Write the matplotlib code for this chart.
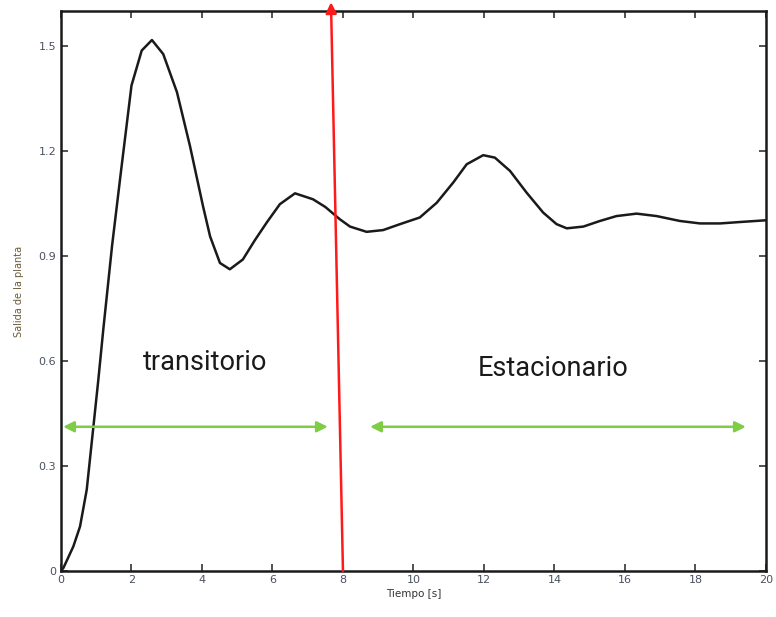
import matplotlib
matplotlib.use('Agg')
import matplotlib.pyplot as plt
import numpy as np

# Respuesta de la planta
tiempo = [0, 0.07, 0.35, 0.54, 0.73, 0.92, 1.06, 1.2, 1.45, 1.7, 2.0, 2.29, 2.58, 2.9,
          3.29, 3.66, 4.03, 4.23, 4.51, 4.79, 5.16, 5.5, 5.84, 6.21, 6.64, 7.15, 7.5,
          7.91, 8.2, 8.67, 9.14, 9.62, 10.18, 10.66, 11.13, 11.51, 11.98, 12.31, 12.74,
          13.21, 13.68, 14.06, 14.35, 14.82, 15.29, 15.76, 16.33, 16.9, 17.56, 18.13,
          18.7, 19.26, 20.0]
salida = [0, 0.009, 0.07, 0.127, 0.232, 0.413, 0.547, 0.69, 0.93, 1.14, 1.387, 1.487,
          1.517, 1.477, 1.368, 1.214, 1.042, 0.956, 0.88, 0.862, 0.89, 0.945, 0.996,
          1.048, 1.079, 1.062, 1.04, 1.005, 0.984, 0.969, 0.974, 0.991, 1.01, 1.052,
          1.11, 1.162, 1.188, 1.181, 1.143, 1.081, 1.024, 0.991, 0.979, 0.984, 1.0,
          1.014, 1.021, 1.014, 1.0, 0.993, 0.993, 0.997, 1.002]

x_ticks = [0, 2, 4, 6, 8, 10, 12, 14, 16, 18, 20]
y_ticks = [0, 0.3, 0.6, 0.9, 1.2, 1.5]
y_tick_labels = ['0', '0.3', '0.6', '0.9', '1.2', '1.5']

# Anotaciones
t_corte = (8.0, 7.66)
y_flechas = 0.412
tramo_transitorio = (0.06, 7.57)
tramo_estacionario = (8.77, 19.43)

fig = plt.figure(figsize=(7.76, 6.17), dpi=100)
ax = fig.add_axes([0.0786, 0.0746, 0.9084, 0.9076])

ax.plot(tiempo, salida, color='#1a1a1a', linewidth=1.8, solid_joinstyle='round')

ax.set_xlim(0, 20)
ax.set_ylim(0, 1.6)
ax.set_xticks(x_ticks)
ax.set_yticks(y_ticks)
ax.set_yticklabels(y_tick_labels)
ax.tick_params(direction='in', top=True, right=True, length=5, width=1.2,
               labelsize=8, labelcolor='#4a5160', colors='#333333')
ax.tick_params(axis='x', pad=3)
for s in ax.spines.values():
    s.set_linewidth(1.8)
    s.set_color('#1a1a1a')

ax.set_xlabel('Tiempo [s]', fontsize=7.5, color='#333333', labelpad=3)
ax.set_ylabel('Salida de la planta', fontsize=7, color='#6b5a3a', labelpad=10)

# Flecha roja que separa los regimenes
ax.annotate('', xy=(t_corte[1], 1.625), xytext=(t_corte[0], 0),
            arrowprops=dict(arrowstyle='-|>', color='#ff1a1a', lw=1.8,
                            mutation_scale=16, shrinkA=0, shrinkB=0),
            annotation_clip=False)

# Flechas verdes
for a, b in [tramo_transitorio, tramo_estacionario]:
    ax.annotate('', xy=(a, y_flechas), xytext=(b, y_flechas),
                arrowprops=dict(arrowstyle='<|-|>', color='#7fcc45', lw=1.8,
                                mutation_scale=16, shrinkA=0, shrinkB=0))

ax.text(4.08, 0.595, 'transitorio', fontsize=19.5, family='Roboto',
        color='#1a1a1a', ha='center', va='center')
ax.text(13.96, 0.578, 'Estacionario', fontsize=19.5, family='Roboto',
        color='#1a1a1a', ha='center', va='center')

plt.savefig('out.png', dpi=100)
